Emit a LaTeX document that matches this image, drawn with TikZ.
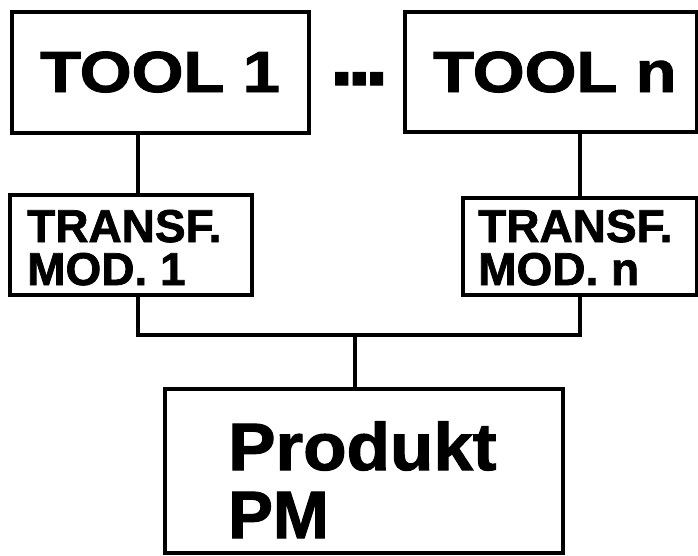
\documentclass[tikz,border=0pt]{standalone}
\usepackage{fontspec}
\usepackage{graphicx}
\newfontfamily\hvfont{Liberation Sans}[BoldFeatures={FakeBold=1.6}]
\tikzset{
  boxnode/.style={draw=black, line width=3.2pt, inner sep=0pt, rectangle},
  txtnode/.style={anchor=base west, inner sep=0pt, text=black},
  bigtxt/.style={txtnode, font=\hvfont\bfseries\fontsize{58}{58}\selectfont},
  midtxt/.style={txtnode, font=\hvfont\bfseries\fontsize{46}{46}\selectfont},
  prodtxt/.style={txtnode, font=\hvfont\bfseries\fontsize{67}{67}\selectfont},
  conn/.style={draw=black, line width=3.2pt}
}
\begin{document}
\begin{tikzpicture}[x=1pt,y=-1pt]
\useasboundingbox (0,0) rectangle (698,555);
% boxes
\node[boxnode, minimum width=297pt, minimum height=121pt] (tool1) at (160.5,72.5) {};
\node[boxnode, minimum width=292pt, minimum height=120pt] (tooln) at (551,72) {};
\node[boxnode, minimum width=242pt, minimum height=100pt] (tr1) at (131,245) {};
\node[boxnode, minimum width=234pt, minimum height=97pt] (trn) at (580,246.5) {};
\node[boxnode, minimum width=398pt, minimum height=164pt] (prod) at (364,471) {};
% texts
\node[bigtxt] (t1) at (40,92) {\scalebox{1.15}[1]{TOOL 1}};
\node[bigtxt] (tn) at (433,92) {\scalebox{1.15}[1]{TOOL n}};
\node[bigtxt, font=\hvfont\bfseries\fontsize{84}{84}\selectfont] (dots) at (330,85) {.\kern-6pt.\kern-6pt.};
\node[midtxt] (tr1a) at (27,242) {TRANSF.};
\node[midtxt] (tr1b) at (27,285) {MOD. 1};
\node[midtxt] (trna) at (478,242) {TRANSF.};
\node[midtxt] (trnb) at (478,285) {MOD. n};
\node[prodtxt] (pa) at (228,470) {\scalebox{1.06}[1]{Produkt}};
\node[prodtxt] (pb) at (228,538) {PM};
% connectors
\coordinate (c1) at (138,0);
\coordinate (c2) at (580,0);
\coordinate (bus) at (355,335);
\draw[conn] (tool1.south -| c1) -- (tr1.north -| c1);
\draw[conn] (tooln.south -| c2) -- (trn.north -| c2);
\draw[conn] (tr1.south -| c1) |- (bus) -| (trn.south -| c2);
\draw[conn] (bus) -- (prod.north -| bus);
\end{tikzpicture}
\end{document}
